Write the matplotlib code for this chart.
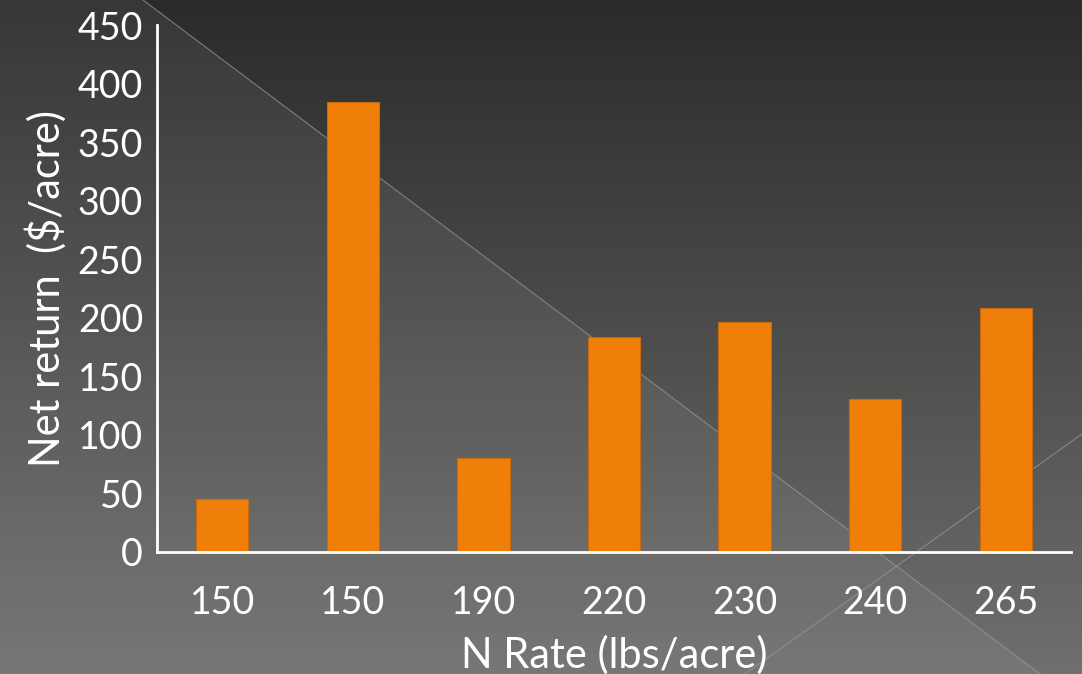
"""Net return by N rate, drawn as a slide-style bar chart on a dark gradient."""

import numpy as np
import matplotlib.pyplot as plt
from matplotlib.patches import Polygon

N_RATES = ["150", "150", "190", "220", "230", "240", "265"]
NET_RETURN = [45, 384, 80, 184, 196, 131, 208]

W, H = 1082, 674
BAR_COLOR = "#F07F09"
TEXT = "white"
FONT = ["Lato", "DejaVu Sans"]

fig = plt.figure(figsize=(W / 100, H / 100), dpi=100)

# background: vertical gradient plus the lighter diagonal panel
bg = fig.add_axes([0, 0, 1, 1], zorder=0)
bg.set_xlim(0, W)
bg.set_ylim(H, 0)
bg.axis("off")
top = np.array([0x2b, 0x2b, 0x2b]) / 255
bot = np.array([0x6f, 0x6f, 0x6d]) / 255
t = np.linspace(0, 1, 256)[:, None, None]
grad = top * (1 - t) + bot * t
grad = np.repeat(grad, 2, axis=1)
bg.imshow(grad, extent=(0, W, H, 0), aspect="auto", interpolation="bilinear")
bg.add_patch(Polygon([(0, 0), (143, 0), (1040, H), (0, H)],
                     closed=True, facecolor="white", alpha=0.06,
                     edgecolor="none"))
bg.plot([143, 1040], [0, H], color="#9a9a9a", lw=0.8, alpha=0.7)
bg.plot([1082, 745], [434, H], color="#9a9a9a", lw=0.8, alpha=0.7)

# chart area
ax = fig.add_axes([157 / W, 1 - 552 / H, (1071 - 157) / W, (552 - 25) / H],
                  zorder=1)
ax.patch.set_alpha(0)
x = np.arange(len(N_RATES))
ax.bar(x, NET_RETURN, width=0.4, color=BAR_COLOR, edgecolor="#c96a10",
       linewidth=0.8, zorder=2)
ax.set_xlim(-0.5, len(N_RATES) - 0.5)
ax.set_ylim(0, 450)
ax.set_yticks(np.arange(0, 451, 50))
ax.set_xticks(x)
ax.set_xticklabels(N_RATES)

for s in ("top", "right"):
    ax.spines[s].set_visible(False)
for s in ("left", "bottom"):
    ax.spines[s].set_color(TEXT)
    ax.spines[s].set_linewidth(2)
ax.tick_params(length=0, colors=TEXT, labelsize=27)
ax.tick_params(axis="y", pad=10)
ax.tick_params(axis="x", pad=24)
for lab in ax.get_xticklabels() + ax.get_yticklabels():
    lab.set_family(FONT)

ax.set_xlabel("N Rate (lbs/acre)", fontsize=30, color=TEXT, family=FONT,
              labelpad=10)
ax.set_ylabel("Net return  ($/acre)", fontsize=30, color=TEXT, family=FONT,
              labelpad=8)

fig.savefig("out.png", dpi=100)
